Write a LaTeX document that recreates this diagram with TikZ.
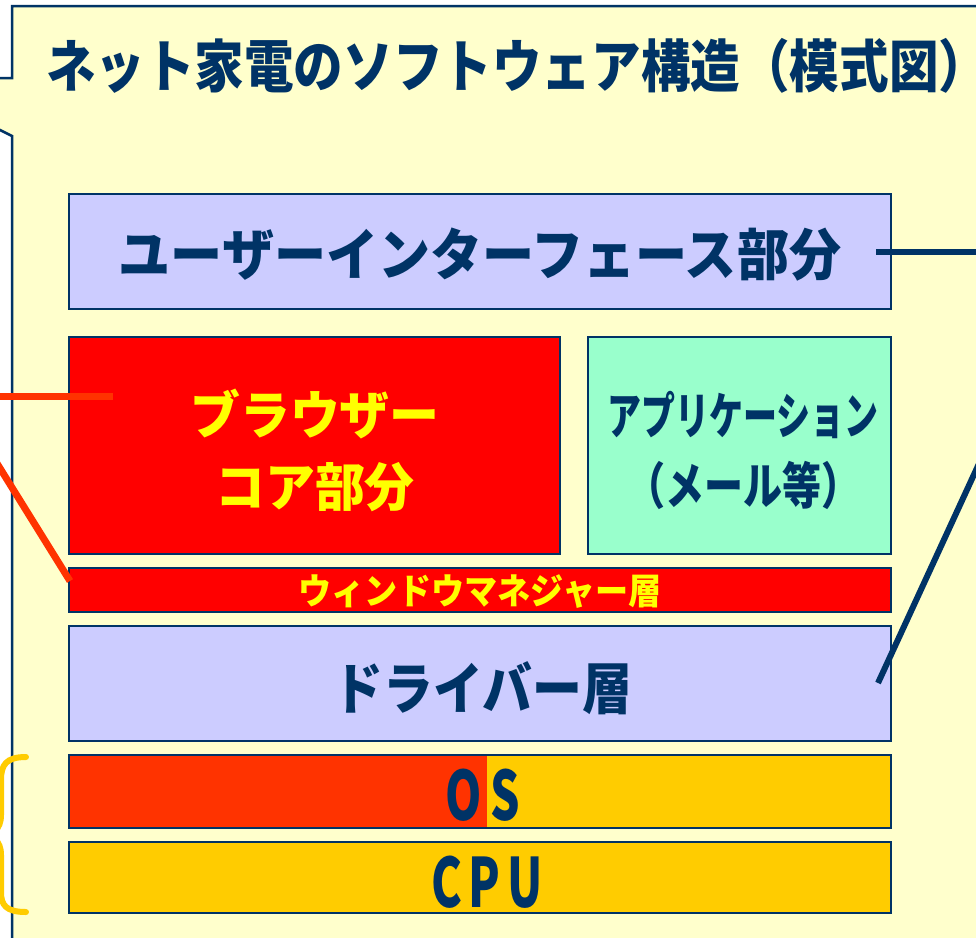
\documentclass[tikz,border=0pt]{standalone}
\usepackage{fontspec}
\usepackage{graphicx}
\setmainfont{Noto Sans CJK JP}
\definecolor{navy}{HTML}{003366}
\definecolor{panelbg}{HTML}{FFFFCC}
\definecolor{lav}{HTML}{CCCCFF}
\definecolor{mint}{HTML}{99FFCC}
\definecolor{gold}{HTML}{FFCC00}
\definecolor{osred}{HTML}{FF3300}
\definecolor{brred}{HTML}{FF0000}
\definecolor{yel}{HTML}{FFFF00}
\begin{document}
\begin{tikzpicture}[x=1pt,y=-1pt,
  box/.style={draw=navy, line width=2pt, inner sep=0pt, outer sep=0pt, anchor=north west},
  txt/.style={inner sep=0pt, outer sep=0pt, align=center},
  navyline/.style={draw=navy, line width=6pt},
  redline/.style={draw=osred, line width=7pt},
  brace/.style={draw=gold, line width=6pt, line cap=round}]
\useasboundingbox (0,0) rectangle (976,937);
\clip (0,0) rectangle (976,937);
\fill[white] (0,0) rectangle (976,937);
% panel
\filldraw[fill=panelbg, draw=navy, line width=2.5pt] (12,6) -- (1000,6) -- (1000,960) -- (12,960) -- (12,136) -- (-30,115) -- (-30,78) -- (12,78) -- cycle;
% title
\node[txt, text=navy, anchor=west, font=\fontsize{57}{60}\selectfont\bfseries] (title) at (46,66) {\scalebox{0.87}[1]{ネット家電のソフトウェア構造（模式図\makebox[0.4em][l]{）}}};
% boxes
\node[box, fill=lav, minimum width=822pt, minimum height=115pt] (ui) at (69,194) {};
\node[box, fill=brred, minimum width=491pt, minimum height=217pt] (br) at (69,337) {};
\node[box, fill=mint, minimum width=303pt, minimum height=217pt] (app) at (588,337) {};
\node[box, fill=brred, minimum width=822pt, minimum height=44pt] (wm) at (69,568) {};
\node[box, fill=lav, minimum width=822pt, minimum height=115pt] (drv) at (69,626) {};
\node[box, fill=gold, minimum width=822pt, minimum height=73pt,
  path picture={\fill[osred] (path picture bounding box.north west) rectangle ([xshift=418pt]path picture bounding box.south west);}] (os) at (69,755) {};
\node[box, fill=gold, minimum width=822pt, minimum height=71pt] (cpu) at (69,842) {};
% texts
\node[txt, text=navy, font=\fontsize{56}{60}\selectfont\bfseries] (uit) at (480,255) {\scalebox{0.93}[1]{ユーザーインターフェース部分}};
\node[txt, text=yel, font=\fontsize{52}{72}\selectfont\bfseries] (brt) at (315,450) {\scalebox{0.96}[1]{ブラウザー}\\\scalebox{0.96}[1]{コア部分}};
\node[txt, text=navy, font=\fontsize{50}{70}\selectfont\bfseries] (appt) at (743,450) {\scalebox{0.68}[1]{アプリケーション}\\\scalebox{0.78}[1]{（メール等）}};
\node[txt, text=yel, font=\fontsize{36}{40}\selectfont\bfseries] (wmt) at (480,592) {\scalebox{0.92}[1]{ウィンドウマネジャー層}};
\node[txt, text=navy, font=\fontsize{56}{60}\selectfont\bfseries] (drvt) at (483,688) {\scalebox{0.89}[1]{ドライバー層}};
\node[txt, text=navy, font=\fontsize{68}{70}\selectfont\bfseries] (ost) at (483,795) {\scalebox{0.68}[1]{O\kern12pt S}};
\node[txt, text=navy, font=\fontsize{68}{70}\selectfont\bfseries] (cput) at (487,882) {\scalebox{0.68}[1]{C\kern10pt P\kern10pt U}};
% connectors
\coordinate (uiR) at (876,252);
\coordinate (offUI) at (990,252);
\draw[navyline] (uiR) -- (offUI);
\coordinate (drvR) at (878,683);
\coordinate (offDrv) at (1000,418);
\draw[navyline] (drvR) -- (offDrv);
\coordinate (brL) at (113,396);
\coordinate (offBr) at (-10,396);
\draw[redline] (brL) -- (offBr);
\coordinate (wmL) at (70,581);
\coordinate (offWm) at (-20,436);
\draw[redline] (wmL) -- (offWm);
% brace
\coordinate (bTop) at (26,757);
\coordinate (bBot) at (26,912);
\coordinate (bTip) at (-18,835);
\draw[brace] (bTop) .. controls (6,757) and (1,765) .. (1,780) -- (1,815) .. controls (1,830) and (-8,835) .. (bTip)
  .. controls (-8,835) and (1,840) .. (1,855) -- (1,892) .. controls (1,905) and (6,912) .. (bBot);
\end{tikzpicture}
\end{document}
